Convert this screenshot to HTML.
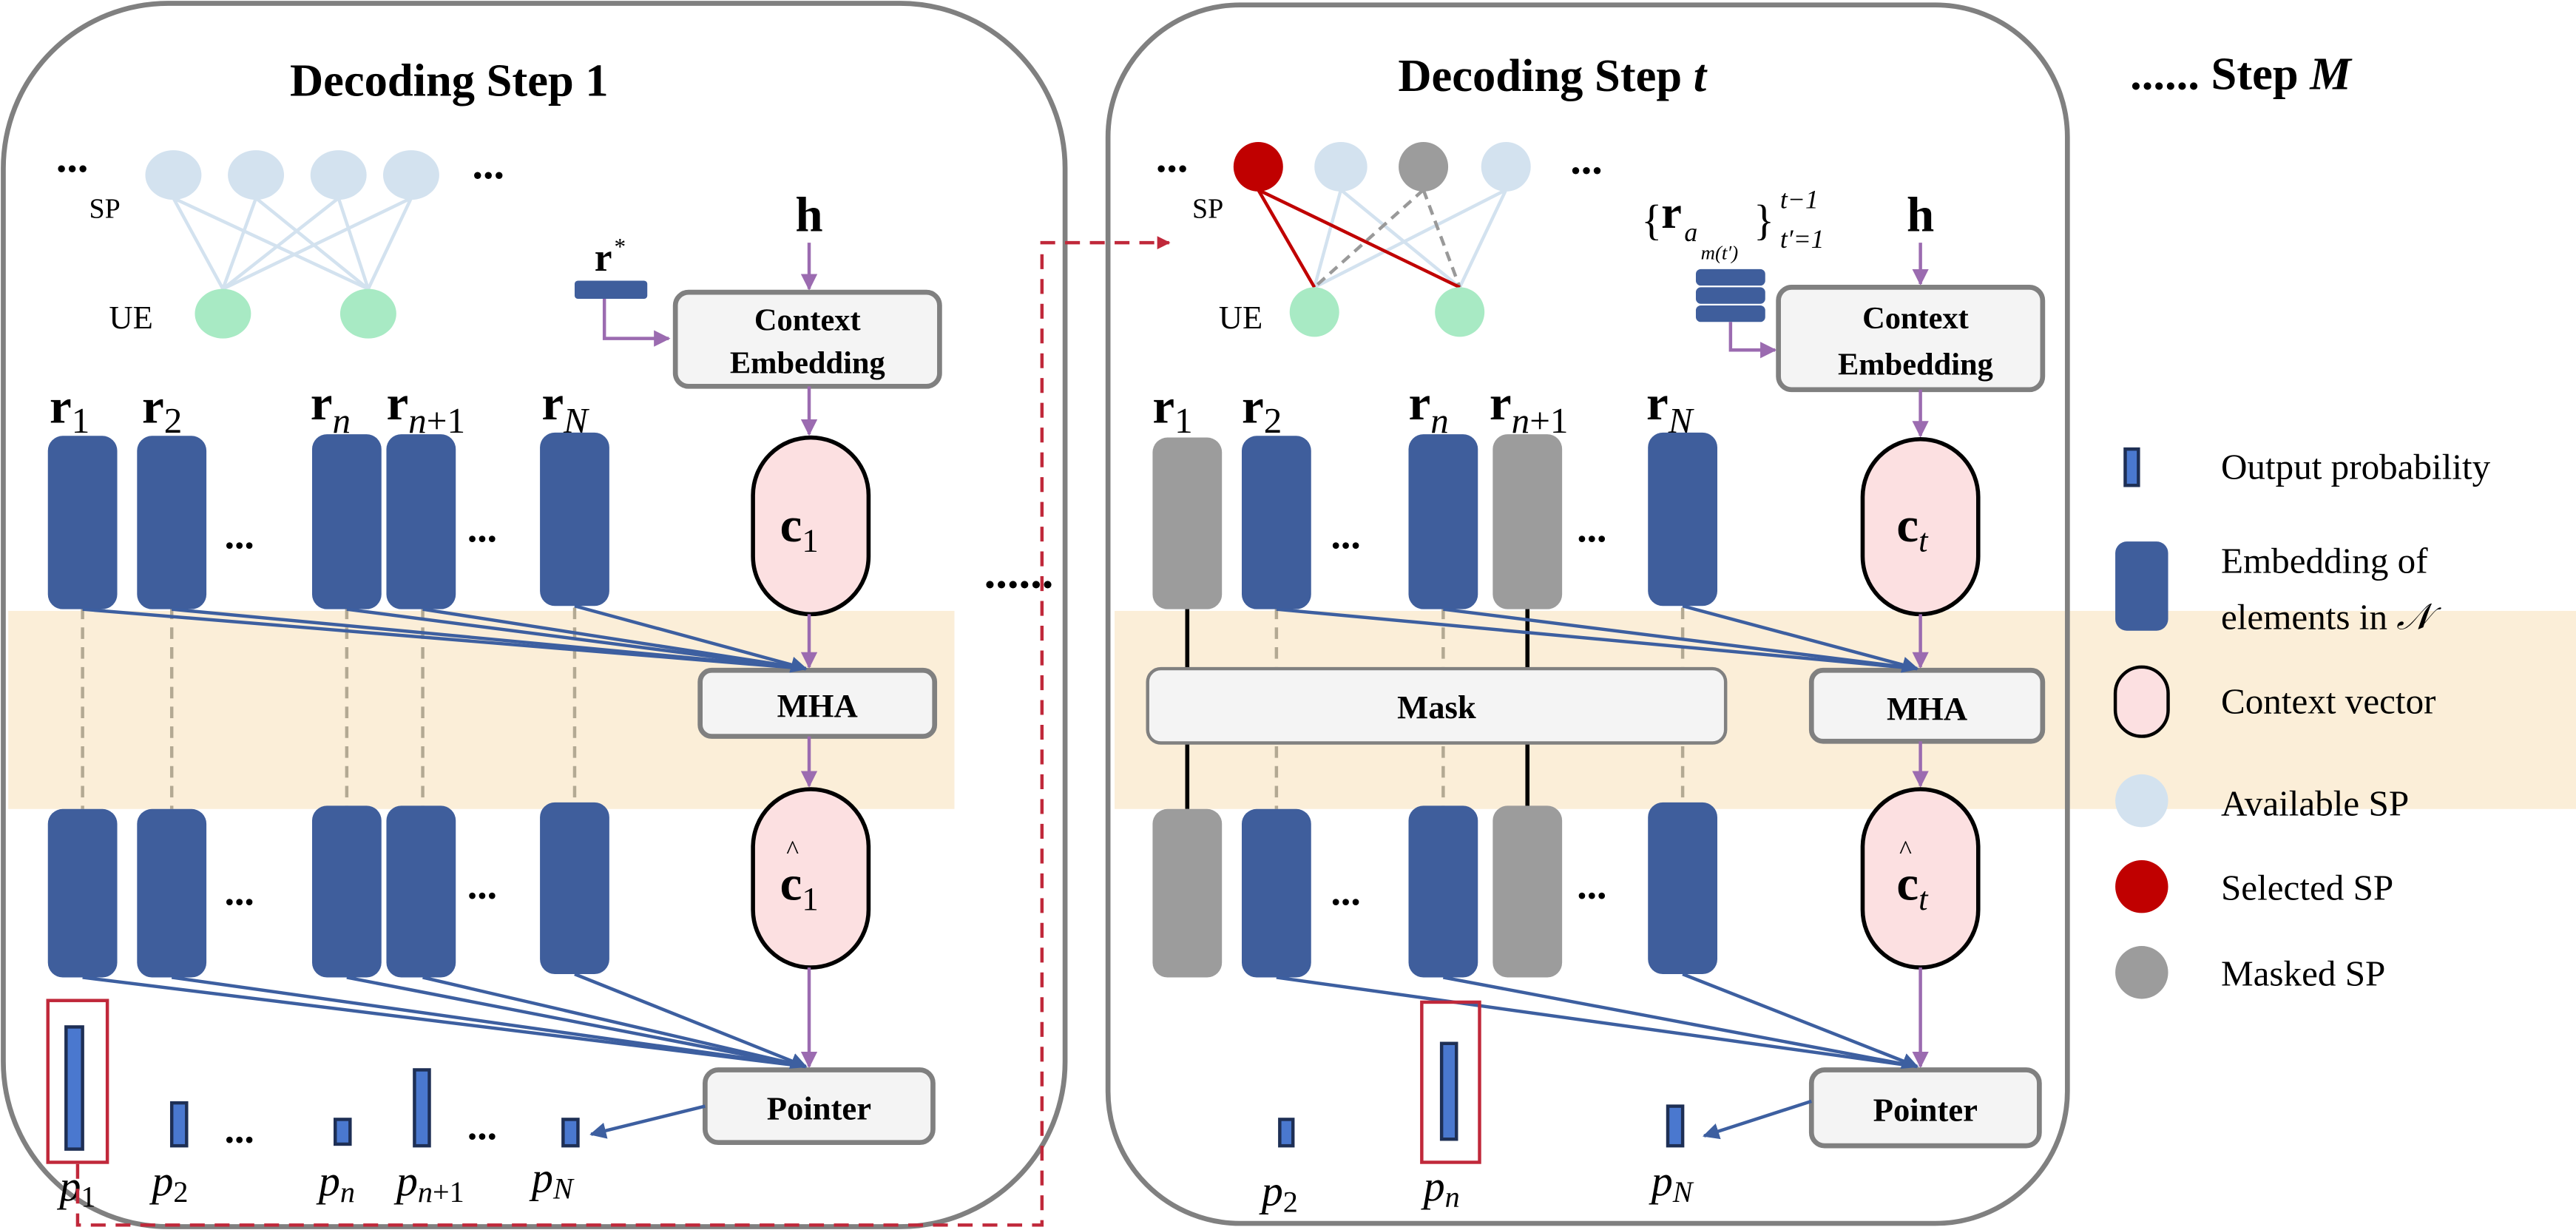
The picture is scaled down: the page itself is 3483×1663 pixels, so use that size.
<!DOCTYPE html>
<html><head><meta charset="utf-8"><style>
html,body{margin:0;padding:0;background:#fff;overflow:hidden;width:3483px;height:1663px;}
svg{display:block;overflow:hidden;}
text{font-family:"Liberation Serif",serif;}
</style></head><body>
<svg width="3483" height="1663" viewBox="0 0 1560 745" preserveAspectRatio="none" xmlns="http://www.w3.org/2000/svg">
<defs>
<marker id="pa" viewBox="0 0 10 10" refX="9" refY="5" markerWidth="5" markerHeight="5" orient="auto"><path d="M0,0L10,5L0,10z" fill="#9b6bb0"/></marker>
<marker id="ba" viewBox="0 0 10 10" refX="9" refY="5" markerWidth="5" markerHeight="5" orient="auto"><path d="M0,0L10,5L0,10z" fill="#3d5fa0"/></marker>
<marker id="ra" viewBox="0 0 10 10" refX="9" refY="5" markerWidth="4" markerHeight="4" orient="auto"><path d="M0,0L10,5L0,10z" fill="#c0283a"/></marker>
</defs>
<rect x="5" y="370" width="573" height="120" fill="#fbeed8"/>
<rect x="675" y="370" width="885" height="120" fill="#fbeed8"/>
<rect x="2" y="2" width="643" height="741" rx="100" fill="none" stroke="#808080" stroke-width="3"/>
<rect x="671" y="3" width="581" height="738" rx="80" fill="none" stroke="#808080" stroke-width="3"/>

<text x="272" y="58" font-size="28" font-weight="bold" text-anchor="middle">Decoding Step 1</text>
<text x="940" y="55" font-size="28" font-weight="bold" text-anchor="middle">Decoding Step <tspan font-style="italic">t</tspan></text>
<text x="1290" y="54" font-size="28" font-weight="bold">......  Step <tspan font-style="italic">M</tspan></text>
<text x="596" y="356" font-size="28" font-weight="bold">......</text>

<g stroke="#d3e2ef" stroke-width="2">
<line x1="105" y1="120" x2="135" y2="175"/><line x1="105" y1="120" x2="223" y2="175"/>
<line x1="155" y1="120" x2="135" y2="175"/><line x1="155" y1="120" x2="223" y2="175"/>
<line x1="205" y1="120" x2="135" y2="175"/><line x1="205" y1="120" x2="223" y2="175"/>
<line x1="249" y1="120" x2="135" y2="175"/><line x1="249" y1="120" x2="223" y2="175"/>
</g>
<g fill="#d3e2ef"><ellipse cx="105" cy="106" rx="17" ry="15"/><ellipse cx="155" cy="106" rx="17" ry="15"/><ellipse cx="205" cy="106" rx="17" ry="15"/><ellipse cx="249" cy="106" rx="17" ry="15"/></g>
<g fill="#a8eac4"><ellipse cx="135" cy="190" rx="17" ry="15"/><ellipse cx="223" cy="190" rx="17" ry="15"/></g>
<text x="34" y="104" font-size="26" font-weight="bold">...</text>
<text x="286" y="108" font-size="26" font-weight="bold">...</text>
<text x="54" y="132" font-size="17">SP</text>
<text x="66" y="199" font-size="20">UE</text>

<text x="360" y="164" font-size="24" font-weight="bold">r</text><text x="372" y="154" font-size="14">*</text>
<rect x="348" y="170" width="44" height="11" rx="2" fill="#3f5e9c"/>
<path d="M366,181V205H405" fill="none" stroke="#9b6bb0" stroke-width="2" marker-end="url(#pa)"/>
<text x="490" y="140" font-size="30" font-weight="bold" text-anchor="middle">h</text>
<line x1="490" y1="147" x2="490" y2="175" stroke="#9b6bb0" stroke-width="2" marker-end="url(#pa)"/>
<rect x="409" y="177" width="160" height="57" rx="8" fill="#f4f4f4" stroke="#808080" stroke-width="3"/>
<text x="489" y="200" font-size="19" font-weight="bold" text-anchor="middle">Context</text>
<text x="489" y="226" font-size="19" font-weight="bold" text-anchor="middle">Embedding</text>
<line x1="490" y1="234" x2="490" y2="263" stroke="#9b6bb0" stroke-width="2" marker-end="url(#pa)"/>
<rect x="456" y="265" width="70" height="107" rx="35" fill="#fce0e1" stroke="#000" stroke-width="2.5"/>
<text x="484" y="328" font-size="30" font-weight="bold" text-anchor="middle">c<tspan font-size="20" font-weight="normal" dy="6">1</tspan></text>
<line x1="490" y1="372" x2="490" y2="404" stroke="#9b6bb0" stroke-width="2" marker-end="url(#pa)"/>
<rect x="424" y="406" width="142" height="40" rx="7" fill="#f4f4f4" stroke="#808080" stroke-width="3"/>
<text x="495" y="434" font-size="20" font-weight="bold" text-anchor="middle">MHA</text>
<line x1="490" y1="446" x2="490" y2="476" stroke="#9b6bb0" stroke-width="2" marker-end="url(#pa)"/>
<rect x="456" y="478" width="70" height="108" rx="35" fill="#fce0e1" stroke="#000" stroke-width="2.5"/>
<text x="484" y="545" font-size="30" font-weight="bold" text-anchor="middle">c<tspan font-size="20" font-weight="normal" dy="6">1</tspan></text>
<text x="480" y="520" font-size="16" text-anchor="middle">^</text>
<line x1="490" y1="586" x2="490" y2="646" stroke="#9b6bb0" stroke-width="2" marker-end="url(#pa)"/>
<rect x="427" y="648" width="138" height="44" rx="8" fill="#f4f4f4" stroke="#808080" stroke-width="3"/>
<text x="496" y="678" font-size="20" font-weight="bold" text-anchor="middle">Pointer</text>

<g font-size="30" font-weight="bold">
<text x="30" y="256">r<tspan font-size="22" font-weight="normal" dy="6">1</tspan></text>
<text x="86" y="256">r<tspan font-size="22" font-weight="normal" dy="6">2</tspan></text>
<text x="188" y="254">r<tspan font-size="22" font-weight="normal" font-style="italic" dy="8">n</tspan></text>
<text x="234" y="254">r<tspan font-size="22" font-weight="normal" dy="8"><tspan font-style="italic">n</tspan>+1</tspan></text>
<text x="328" y="254">r<tspan font-size="22" font-weight="normal" font-style="italic" dy="8">N</tspan></text>
</g>
<g stroke="#b3a993" stroke-width="2" stroke-dasharray="7,5">
<line x1="50" y1="368" x2="50" y2="490"/><line x1="104" y1="368" x2="104" y2="490"/><line x1="210" y1="368" x2="210" y2="490"/><line x1="256" y1="368" x2="256" y2="490"/><line x1="348" y1="368" x2="348" y2="490"/>
</g>
<g fill="#3f5e9c">
<rect x="29" y="264" width="42" height="105" rx="9"/><rect x="83" y="264" width="42" height="105" rx="9"/><rect x="189" y="263" width="42" height="106" rx="9"/><rect x="234" y="263" width="42" height="106" rx="9"/><rect x="327" y="262" width="42" height="105" rx="9"/>
<rect x="29" y="490" width="42" height="102" rx="9"/><rect x="83" y="490" width="42" height="102" rx="9"/><rect x="189" y="488" width="42" height="104" rx="9"/><rect x="234" y="488" width="42" height="104" rx="9"/><rect x="327" y="486" width="42" height="104" rx="9"/>
</g>
<g font-size="24" font-weight="bold"><text x="136" y="332">...</text><text x="283" y="328">...</text><text x="136" y="548">...</text><text x="283" y="544">...</text><text x="136" y="692">...</text><text x="283" y="690">...</text></g>
<g stroke="#3d5fa0" stroke-width="2" fill="none">
<line x1="50" y1="369" x2="488" y2="405"/><line x1="104" y1="369" x2="488" y2="405"/><line x1="210" y1="369" x2="488" y2="405"/><line x1="256" y1="369" x2="488" y2="405"/><line x1="348" y1="367" x2="488" y2="405" marker-end="url(#ba)"/>
<line x1="50" y1="592" x2="488" y2="646"/><line x1="104" y1="592" x2="488" y2="646"/><line x1="210" y1="592" x2="488" y2="646"/><line x1="256" y1="592" x2="488" y2="646"/><line x1="348" y1="590" x2="488" y2="646" marker-end="url(#ba)"/>
<line x1="427" y1="670" x2="358" y2="687" marker-end="url(#ba)"/>
</g>
<g fill="#4a78cf" stroke="#1e2f55" stroke-width="2">
<rect x="40" y="622" width="10" height="74"/><rect x="104" y="668" width="9" height="26"/><rect x="203" y="678" width="9" height="15"/><rect x="251" y="648" width="9" height="46"/><rect x="341" y="678" width="9" height="16"/>
</g>
<rect x="29" y="606" width="36" height="98" fill="none" stroke="#c0283a" stroke-width="2"/>
<g font-size="26" font-style="italic">
<text x="36" y="727">p<tspan font-size="18" font-style="normal" dy="4">1</tspan></text>
<text x="92" y="724">p<tspan font-size="18" font-style="normal" dy="4">2</tspan></text>
<text x="193" y="724">p<tspan font-size="18" dy="4">n</tspan></text>
<text x="240" y="724">p<tspan font-size="18" dy="4">n</tspan><tspan font-size="18" font-style="normal">+1</tspan></text>
<text x="322" y="722">p<tspan font-size="18" dy="4">N</tspan></text>
</g>
<path d="M47,705V742H631V147H708" fill="none" stroke="#c0283a" stroke-width="2" stroke-dasharray="9,6" marker-end="url(#ra)"/>

<g stroke="#d3e2ef" stroke-width="2">
<line x1="812" y1="115" x2="796" y2="174"/><line x1="812" y1="115" x2="884" y2="174"/>
<line x1="912" y1="115" x2="796" y2="174"/><line x1="912" y1="115" x2="884" y2="174"/>
</g>
<g stroke="#999" stroke-width="2" stroke-dasharray="6,4">
<line x1="862" y1="115" x2="796" y2="174"/><line x1="862" y1="115" x2="884" y2="174"/>
</g>
<g stroke="#c00000" stroke-width="2"><line x1="762" y1="115" x2="796" y2="174"/><line x1="762" y1="115" x2="884" y2="174"/></g>
<ellipse cx="762" cy="101" rx="15" ry="15" fill="#c00000"/>
<ellipse cx="812" cy="101" rx="16" ry="15" fill="#d3e2ef"/>
<ellipse cx="862" cy="101" rx="15" ry="15" fill="#9c9c9c"/>
<ellipse cx="912" cy="101" rx="15" ry="15" fill="#d3e2ef"/>
<g fill="#a8eac4"><ellipse cx="796" cy="189" rx="15" ry="15"/><ellipse cx="884" cy="189" rx="15" ry="15"/></g>
<text x="700" y="104" font-size="26" font-weight="bold">...</text>
<text x="951" y="105" font-size="26" font-weight="bold">...</text>
<text x="722" y="132" font-size="17">SP</text>
<text x="738" y="199" font-size="20">UE</text>

<text x="994" y="142" font-size="26">{</text>
<text x="1006" y="138" font-size="28" font-weight="bold">r</text>
<text x="1020" y="146" font-size="16" font-style="italic">a</text>
<text x="1030" y="157" font-size="12" font-style="italic">m(t′)</text>
<text x="1062" y="142" font-size="26">}</text>
<text x="1078" y="126" font-size="16" font-style="italic">t−1</text>
<text x="1078" y="150" font-size="16" font-style="italic">t′=1</text>
<text x="1163" y="140" font-size="30" font-weight="bold" text-anchor="middle">h</text>
<g fill="#3f5e9c"><rect x="1027" y="163" width="42" height="10" rx="3"/><rect x="1027" y="174" width="42" height="10" rx="3"/><rect x="1027" y="185" width="42" height="10" rx="3"/></g>
<path d="M1048,195V212H1075" fill="none" stroke="#9b6bb0" stroke-width="2" marker-end="url(#pa)"/>
<line x1="1163" y1="147" x2="1163" y2="172" stroke="#9b6bb0" stroke-width="2" marker-end="url(#pa)"/>
<rect x="1077" y="174" width="160" height="62" rx="8" fill="#f4f4f4" stroke="#808080" stroke-width="3"/>
<text x="1160" y="199" font-size="19" font-weight="bold" text-anchor="middle">Context</text>
<text x="1160" y="227" font-size="19" font-weight="bold" text-anchor="middle">Embedding</text>
<line x1="1163" y1="236" x2="1163" y2="264" stroke="#9b6bb0" stroke-width="2" marker-end="url(#pa)"/>
<rect x="1128" y="266" width="70" height="106" rx="35" fill="#fce0e1" stroke="#000" stroke-width="2.5"/>
<text x="1158" y="328" font-size="30" font-weight="bold" text-anchor="middle">c<tspan font-size="20" font-weight="normal" font-style="italic" dy="6">t</tspan></text>
<line x1="1163" y1="372" x2="1163" y2="404" stroke="#9b6bb0" stroke-width="2" marker-end="url(#pa)"/>
<rect x="1097" y="406" width="140" height="43" rx="7" fill="#f4f4f4" stroke="#808080" stroke-width="3"/>
<text x="1167" y="436" font-size="20" font-weight="bold" text-anchor="middle">MHA</text>
<line x1="1163" y1="449" x2="1163" y2="476" stroke="#9b6bb0" stroke-width="2" marker-end="url(#pa)"/>
<rect x="1128" y="478" width="70" height="108" rx="35" fill="#fce0e1" stroke="#000" stroke-width="2.5"/>
<text x="1158" y="545" font-size="30" font-weight="bold" text-anchor="middle">c<tspan font-size="20" font-weight="normal" font-style="italic" dy="6">t</tspan></text>
<text x="1154" y="520" font-size="16" text-anchor="middle">^</text>
<line x1="1163" y1="586" x2="1163" y2="646" stroke="#9b6bb0" stroke-width="2" marker-end="url(#pa)"/>
<rect x="1097" y="648" width="138" height="46" rx="8" fill="#f4f4f4" stroke="#808080" stroke-width="3"/>
<text x="1166" y="679" font-size="20" font-weight="bold" text-anchor="middle">Pointer</text>

<g font-size="30" font-weight="bold">
<text x="698" y="256">r<tspan font-size="22" font-weight="normal" dy="6">1</tspan></text>
<text x="752" y="256">r<tspan font-size="22" font-weight="normal" dy="6">2</tspan></text>
<text x="853" y="254">r<tspan font-size="22" font-weight="normal" font-style="italic" dy="8">n</tspan></text>
<text x="902" y="254">r<tspan font-size="22" font-weight="normal" dy="8"><tspan font-style="italic">n</tspan>+1</tspan></text>
<text x="997" y="254">r<tspan font-size="22" font-weight="normal" font-style="italic" dy="8">N</tspan></text>
</g>
<g stroke="#b3a993" stroke-width="2" stroke-dasharray="7,5">
<line x1="773" y1="368" x2="773" y2="490"/><line x1="874" y1="368" x2="874" y2="490"/><line x1="1019" y1="368" x2="1019" y2="490"/>
</g>
<g stroke="#000" stroke-width="2.5"><line x1="719" y1="368" x2="719" y2="490"/><line x1="925" y1="368" x2="925" y2="490"/></g>
<g>
<rect x="698" y="265" width="42" height="104" rx="9" fill="#9c9c9c"/>
<rect x="752" y="264" width="42" height="105" rx="9" fill="#3f5e9c"/>
<rect x="853" y="263" width="42" height="106" rx="9" fill="#3f5e9c"/>
<rect x="904" y="263" width="42" height="106" rx="9" fill="#9c9c9c"/>
<rect x="998" y="262" width="42" height="105" rx="9" fill="#3f5e9c"/>
<rect x="698" y="490" width="42" height="102" rx="9" fill="#9c9c9c"/>
<rect x="752" y="490" width="42" height="102" rx="9" fill="#3f5e9c"/>
<rect x="853" y="488" width="42" height="104" rx="9" fill="#3f5e9c"/>
<rect x="904" y="488" width="42" height="104" rx="9" fill="#9c9c9c"/>
<rect x="998" y="486" width="42" height="104" rx="9" fill="#3f5e9c"/>
</g>
<g font-size="24" font-weight="bold"><text x="806" y="332">...</text><text x="955" y="328">...</text><text x="806" y="548">...</text><text x="955" y="544">...</text></g>
<rect x="695" y="405" width="350" height="45" rx="8" fill="#f4f4f4" stroke="#808080" stroke-width="2"/>
<text x="870" y="435" font-size="20" font-weight="bold" text-anchor="middle">Mask</text>
<g stroke="#3d5fa0" stroke-width="2" fill="none">
<line x1="773" y1="369" x2="1161" y2="405"/><line x1="874" y1="369" x2="1161" y2="405"/><line x1="1019" y1="367" x2="1161" y2="405" marker-end="url(#ba)"/>
<line x1="773" y1="592" x2="1161" y2="646"/><line x1="874" y1="592" x2="1161" y2="646"/><line x1="1019" y1="590" x2="1161" y2="646" marker-end="url(#ba)"/>
<line x1="1097" y1="667" x2="1032" y2="688" marker-end="url(#ba)"/>
</g>
<g fill="#4a78cf" stroke="#1e2f55" stroke-width="2">
<rect x="775" y="678" width="8" height="16"/><rect x="873" y="632" width="9" height="58"/><rect x="1010" y="670" width="9" height="24"/>
</g>
<rect x="861" y="607" width="35" height="97" fill="none" stroke="#c0283a" stroke-width="2"/>
<g font-size="26" font-style="italic">
<text x="764" y="730">p<tspan font-size="18" font-style="normal" dy="4">2</tspan></text>
<text x="862" y="727">p<tspan font-size="18" dy="4">n</tspan></text>
<text x="1000" y="724">p<tspan font-size="18" dy="4">N</tspan></text>
</g>

<rect x="1287" y="272" width="8" height="22" fill="#4a78cf" stroke="#1e2f55" stroke-width="2"/>
<text x="1345" y="290" font-size="22">Output probability</text>
<rect x="1281" y="328" width="32" height="54" rx="7" fill="#3f5e9c"/>
<text x="1345" y="347" font-size="22">Embedding of</text>
<text x="1345" y="381" font-size="22">elements in <tspan font-style="italic">𝒩</tspan></text>
<rect x="1281" y="404" width="32" height="42" rx="16" fill="#fce0e1" stroke="#000" stroke-width="2"/>
<text x="1345" y="432" font-size="22">Context vector</text>
<circle cx="1297" cy="485" r="16" fill="#d3e2ef"/>
<text x="1345" y="494" font-size="22">Available SP</text>
<circle cx="1297" cy="537" r="16" fill="#c00000"/>
<text x="1345" y="545" font-size="22">Selected SP</text>
<circle cx="1297" cy="589" r="16" fill="#9c9c9c"/>
<text x="1345" y="597" font-size="22">Masked SP</text>
</svg>
</body></html>
